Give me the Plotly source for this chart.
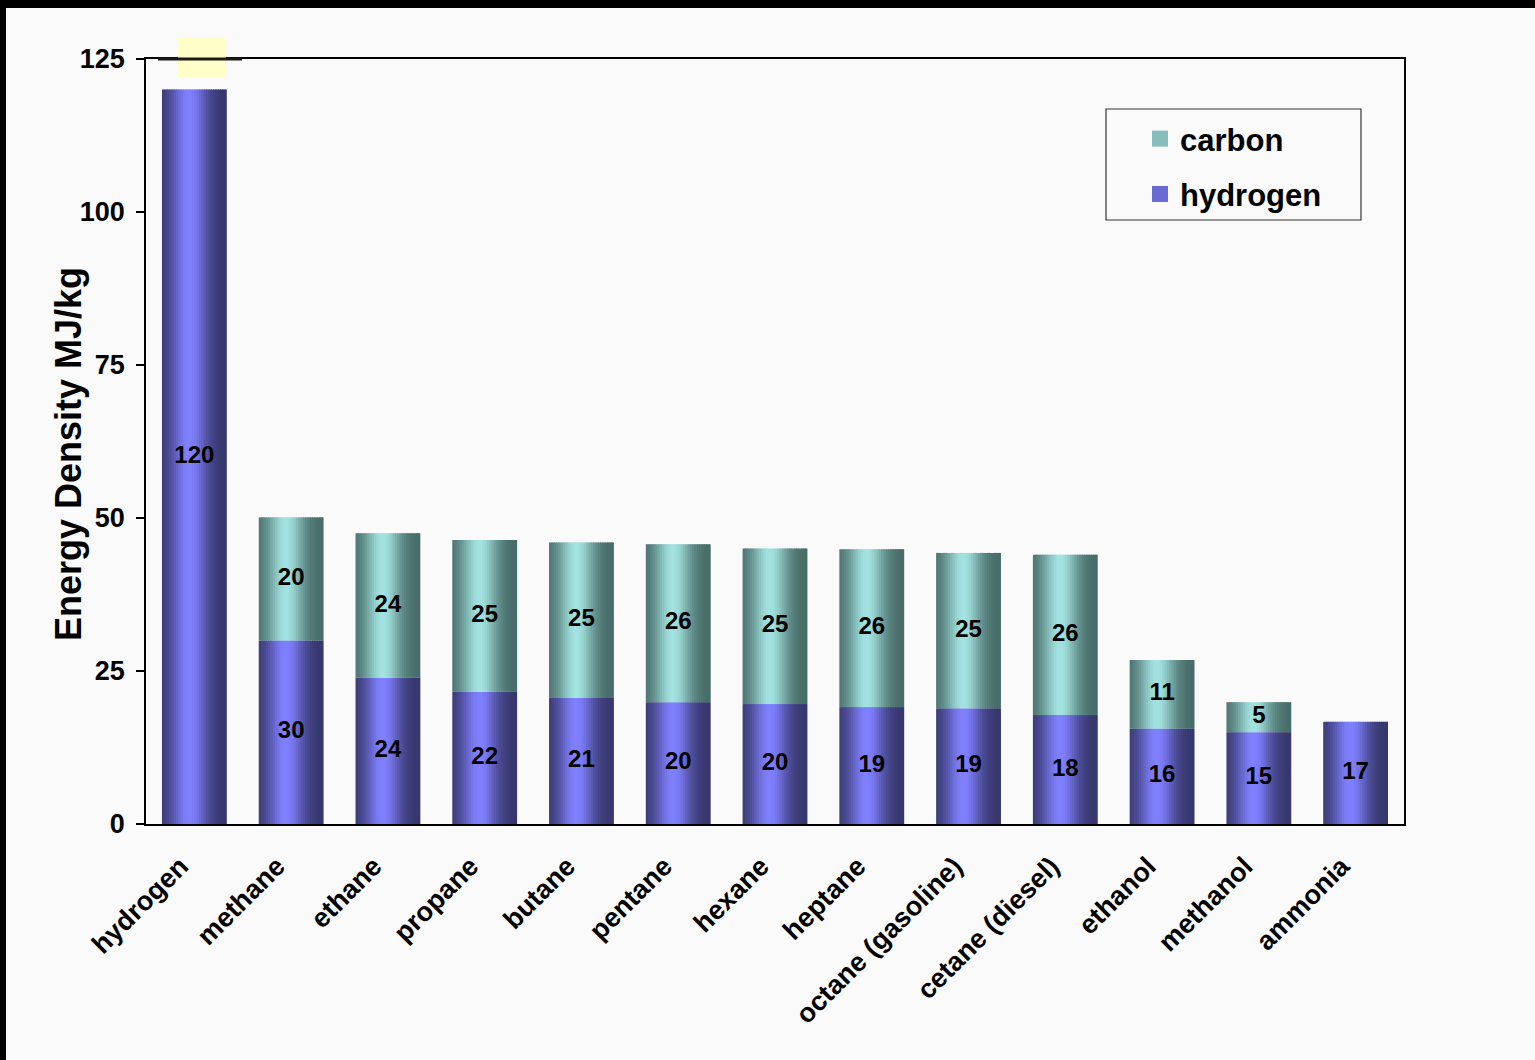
import numpy as np
import plotly.graph_objects as go

# Energy density (MJ/kg) split into the hydrogen and carbon contributions
fuels = ["hydrogen", "methane", "ethane", "propane", "butane", "pentane", "hexane",
         "heptane", "octane (gasoline)", "cetane (diesel)", "ethanol", "methanol", "ammonia"]
hydrogen_mj = [120.0, 30.0, 23.9, 21.6, 20.6, 19.9, 19.6, 19.1, 18.9, 17.8, 15.6, 15.0, 16.7]
carbon_mj = [None, 20.1, 23.6, 24.8, 25.4, 25.8, 25.4, 25.8, 25.4, 26.2, 11.2, 4.9, None]
y_ticks = [0, 25, 50, 75, 100, 125]

FONT = "Liberation Sans, Arial, sans-serif"
BAR_W = 0.67          # bar width in category units
N_STRIPS = 28         # vertical strips used to fake the cylinder shading

H_DARK, H_LIGHT = np.array([0x36, 0x36, 0x6a]), np.array([0x80, 0x80, 0xff])
C_DARK, C_LIGHT = np.array([0x46, 0x6a, 0x66]), np.array([0xa2, 0xe2, 0xe0])


def shade(t):
    """Brightness across the bar: dark edges, highlight left of centre."""
    return float(np.exp(-((t - 0.42) / 0.28) ** 2))


def mix(dark, light, w):
    c = dark + (light - dark) * w
    return "rgb({:.0f},{:.0f},{:.0f})".format(*c)


fig = go.Figure()

step = BAR_W / N_STRIPS
carbon_base = [h if c is not None else None for h, c in zip(hydrogen_mj, carbon_mj)]

for series, values, base, dark, light in [
    ("hydrogen", hydrogen_mj, None, H_DARK, H_LIGHT),
    ("carbon", carbon_mj, carbon_base, C_DARK, C_LIGHT),
]:
    for k in range(N_STRIPS):
        t = (k + 0.5) / N_STRIPS
        x0 = -BAR_W / 2 + k * step
        w = min(step * 1.6, BAR_W / 2 - x0)
        fig.add_trace(go.Bar(
            x=fuels, y=values, base=base,
            width=w, offset=x0,
            marker=dict(color=mix(dark, light, shade(t)), line=dict(width=0)),
            name=series, legendgroup=series,
            showlegend=False, hoverinfo="skip",
        ))
    # legend entry (square swatch)
    fig.add_trace(go.Scatter(
        x=[None], y=[None], mode="markers", name=series, legendgroup=series,
        marker=dict(symbol="square", size=20, color=mix(dark, light, 0.7)),
        showlegend=True, legendrank=2 if series == "hydrogen" else 1,
        hoverinfo="skip",
    ))

# value labels centred in each segment
label_font = dict(family=FONT, size=24, color="black", weight="bold")
h_text = [f"{v:.0f}" for v in hydrogen_mj]
h_mid = [v / 2 for v in hydrogen_mj]
fig.add_trace(go.Scatter(
    x=fuels, y=h_mid, text=h_text, mode="text", textfont=label_font,
    showlegend=False, hoverinfo="skip",
))
c_x = [f for f, c in zip(fuels, carbon_mj) if c is not None]
c_mid = [h + c / 2 for h, c in zip(hydrogen_mj, carbon_mj) if c is not None]
c_text = [f"{c:.0f}" for c in carbon_mj if c is not None]
fig.add_trace(go.Scatter(
    x=c_x, y=c_mid, text=c_text, mode="text", textfont=label_font,
    showlegend=False, hoverinfo="skip",
))

W, H = 1535, 1060
L, R, T, B = 146, 131, 59, 236
pw, ph = W - L - R, H - T - B


def px_x(x):
    return (x - L) / pw


def px_y(y):
    return (H - B - y) / ph


shapes = [
    # dark frame strips along the top and left edges
    dict(type="rect", xref="paper", yref="paper", x0=px_x(-20), x1=px_x(W + 20),
         y0=px_y(8), y1=px_y(-20), fillcolor="black", line=dict(width=0), layer="above"),
    dict(type="rect", xref="paper", yref="paper", x0=px_x(-20), x1=px_x(6),
         y0=px_y(H + 20), y1=px_y(-20), fillcolor="black", line=dict(width=0), layer="above"),
    # pale highlight box and heavy rule above the first bar
    dict(type="rect", xref="paper", yref="paper", x0=px_x(178), x1=px_x(226),
         y0=px_y(77), y1=px_y(37), fillcolor="#ffffc8", line=dict(width=0), layer="above"),
    dict(type="line", xref="paper", yref="paper", x0=px_x(158), x1=px_x(242),
         y0=px_y(59), y1=px_y(59), line=dict(color="#1a1a1a", width=3), layer="above"),
    # legend frame
    dict(type="rect", xref="paper", yref="paper", x0=px_x(1106), x1=px_x(1361),
         y0=px_y(220), y1=px_y(109), line=dict(color="#333333", width=1.2),
         fillcolor="rgba(0,0,0,0)", layer="above"),
]

annotations = [
    dict(text="Energy Density MJ/kg", xref="paper", yref="paper",
         x=px_x(69), y=px_y(454), xanchor="center", yanchor="middle",
         textangle=-90, showarrow=False,
         font=dict(family=FONT, size=36, color="black", weight="bold")),
]

fig.update_layout(
    width=W, height=H,
    margin=dict(l=L, r=R, t=T, b=B, autoexpand=False),
    paper_bgcolor="#fafafa", plot_bgcolor="#fafafa",
    barmode="overlay",
    font=dict(family=FONT, color="black"),
    shapes=shapes,
    annotations=annotations,
    showlegend=True,
    legend=dict(
        x=px_x(1140), y=px_y(112), xanchor="left", yanchor="top",
        bgcolor="rgba(0,0,0,0)", borderwidth=0,
        font=dict(family=FONT, size=31, color="black", weight="bold"),
        traceorder="grouped", tracegroupgap=12, itemsizing="trace",
    ),
    xaxis=dict(
        type="category", range=[-0.5, len(fuels) - 0.5],
        showline=True, linecolor="black", linewidth=1.5, mirror=True,
        ticks="", showgrid=False, tickangle=-45,
        ticklabelstandoff=14, ticklabelshift=-14,
        tickfont=dict(family=FONT, size=27, color="black", weight="bold"),
        automargin=False,
    ),
    yaxis=dict(
        range=[0, 125], tickvals=y_ticks, ticktext=[str(v) for v in y_ticks],
        showline=True, linecolor="black", linewidth=1.5, mirror=True,
        ticks="outside", ticklen=8, tickcolor="black", tickwidth=1.5,
        showgrid=False, zeroline=False, ticklabelstandoff=6,
        tickfont=dict(family=FONT, size=27, color="black", weight="bold"),
        automargin=False,
    ),
)

fig.write_html("out.html")
